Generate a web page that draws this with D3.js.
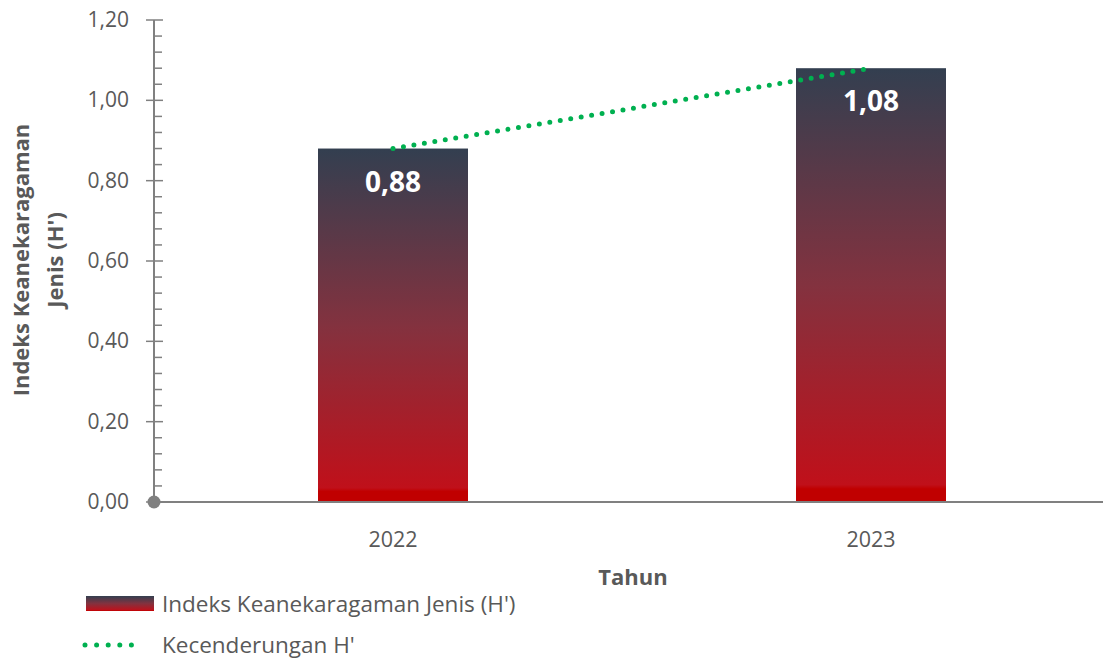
<!DOCTYPE html>
<html>
<head>
<meta charset="utf-8">
<script src="https://cdn.jsdelivr.net/npm/d3@7"></script>
<style>
  body { margin: 0; background: #fff; }
  text { font-family: "Open Sans", "Noto Sans", sans-serif; }
</style>
</head>
<body>
<script>
// data
const years = ["2022", "2023"];
const values = [0.88, 1.08];
const yTicks = [0, 0.2, 0.4, 0.6, 0.8, 1.0, 1.2];
const legendLabels = ["Indeks Keanekaragaman Jenis (H')", "Kecenderungan H'"];

const width = 1103, height = 660;
const fmt = d => d3.format(".2f")(d).replace(".", ",");

const svg = d3.select("body").append("svg")
  .attr("width", width)
  .attr("height", height);

// bar gradient, dark slate on top to red at bottom
const defs = svg.append("defs");
const grad = defs.append("linearGradient")
  .attr("id", "barGrad")
  .attr("x1", 0).attr("y1", 0).attr("x2", 0).attr("y2", 1);
grad.append("stop").attr("offset", "0%").attr("stop-color", "#333f50");
grad.append("stop").attr("offset", "50%").attr("stop-color", "#83323f");
grad.append("stop").attr("offset", "96%").attr("stop-color", "#c0101a");
grad.append("stop").attr("offset", "97%").attr("stop-color", "#c00000");
grad.append("stop").attr("offset", "100%").attr("stop-color", "#c00000");

const x = d3.scaleBand().domain(years).range([154, 1110]).paddingInner(0.686).paddingOuter(0.343);
const y = d3.scaleLinear().domain([0, 1.2]).range([502, 20]);

// bars
svg.selectAll(".bar")
  .data(years)
  .enter()
  .append("rect")
  .attr("class", "bar")
  .attr("x", d => x(d) + x.bandwidth() / 2 - 75)
  .attr("width", 150)
  .attr("y", (d, i) => y(values[i]))
  .attr("height", (d, i) => y(0) - y(values[i]))
  .attr("fill", "url(#barGrad)");

// bar labels
svg.selectAll(".lbl")
  .data(years)
  .enter()
  .append("text")
  .attr("class", "lbl")
  .attr("x", d => x(d) + x.bandwidth() / 2)
  .attr("y", (d, i) => y(values[i]) + 43)
  .attr("text-anchor", "middle")
  .attr("fill", "#fff")
  .attr("font-size", 28)
  .attr("font-weight", "bold")
  .text((d, i) => fmt(values[i]));

// trend line
const line = d3.line()
  .x((d, i) => x(years[i]) + x.bandwidth() / 2)
  .y(d => y(d));
svg.append("path")
  .datum(values)
  .attr("d", line)
  .attr("fill", "none")
  .attr("stroke", "#00b050")
  .attr("stroke-width", 5)
  .attr("stroke-linecap", "round")
  .attr("stroke-dasharray", "0 10.6");

// y axis
const axisColor = "#808080";
svg.append("line")
  .attr("x1", 154).attr("x2", 154)
  .attr("y1", y(1.2)).attr("y2", y(0))
  .attr("stroke", axisColor).attr("stroke-width", 2);

const minor = d3.range(0, 1.2001, 0.04).filter(v => Math.abs(v * 5 - Math.round(v * 5)) > 1e-6);
svg.selectAll(".minor")
  .data(minor)
  .enter()
  .append("line")
  .attr("x1", 154).attr("x2", 162)
  .attr("y1", d => y(d)).attr("y2", d => y(d))
  .attr("stroke", axisColor).attr("stroke-width", 1.5);

svg.selectAll(".major")
  .data(yTicks)
  .enter()
  .append("line")
  .attr("x1", 146).attr("x2", 163)
  .attr("y1", d => y(d)).attr("y2", d => y(d))
  .attr("stroke", axisColor).attr("stroke-width", 1.5);

svg.selectAll(".ytick")
  .data(yTicks)
  .enter()
  .append("text")
  .attr("x", 129)
  .attr("y", d => y(d) + 7)
  .attr("text-anchor", "end")
  .attr("fill", "#595959")
  .attr("font-size", 21)
  .text(fmt);

// x axis
svg.append("line")
  .attr("x1", 154).attr("x2", width)
  .attr("y1", y(0)).attr("y2", y(0))
  .attr("stroke", axisColor).attr("stroke-width", 2);
svg.append("circle")
  .attr("cx", 154).attr("cy", y(0)).attr("r", 6.5)
  .attr("fill", axisColor);

svg.selectAll(".xtick")
  .data(years)
  .enter()
  .append("text")
  .attr("x", d => x(d) + x.bandwidth() / 2)
  .attr("y", 547)
  .attr("text-anchor", "middle")
  .attr("fill", "#595959")
  .attr("font-size", 21.5)
  .text(d => d);

// axis titles
svg.append("text")
  .attr("x", 633).attr("y", 585)
  .attr("text-anchor", "middle")
  .attr("fill", "#595959")
  .attr("font-size", 22)
  .attr("font-weight", "bold")
  .text("Tahun");

const yTitle = svg.append("text")
  .attr("transform", "translate(0,260) rotate(-90)")
  .attr("text-anchor", "middle")
  .attr("fill", "#595959")
  .attr("font-size", 22)
  .attr("font-weight", "bold");
yTitle.append("tspan").attr("x", 0).attr("y", 29).text("Indeks Keanekaragaman");
yTitle.append("tspan").attr("x", 0).attr("y", 63).text("Jenis (H')");

// legend
svg.append("rect")
  .attr("x", 86).attr("y", 596)
  .attr("width", 68).attr("height", 15)
  .attr("fill", "url(#barGrad)");
svg.append("line")
  .attr("x1", 85).attr("x2", 143)
  .attr("y1", 645).attr("y2", 645)
  .attr("stroke", "#00b050")
  .attr("stroke-width", 5)
  .attr("stroke-linecap", "round")
  .attr("stroke-dasharray", "0 11.6");

svg.selectAll(".leg")
  .data(legendLabels)
  .enter()
  .append("text")
  .attr("x", 162)
  .attr("y", (d, i) => 612 + i * 41)
  .attr("fill", "#595959")
  .attr("font-size", 22.5)
  .text(d => d);
</script>
</body>
</html>
